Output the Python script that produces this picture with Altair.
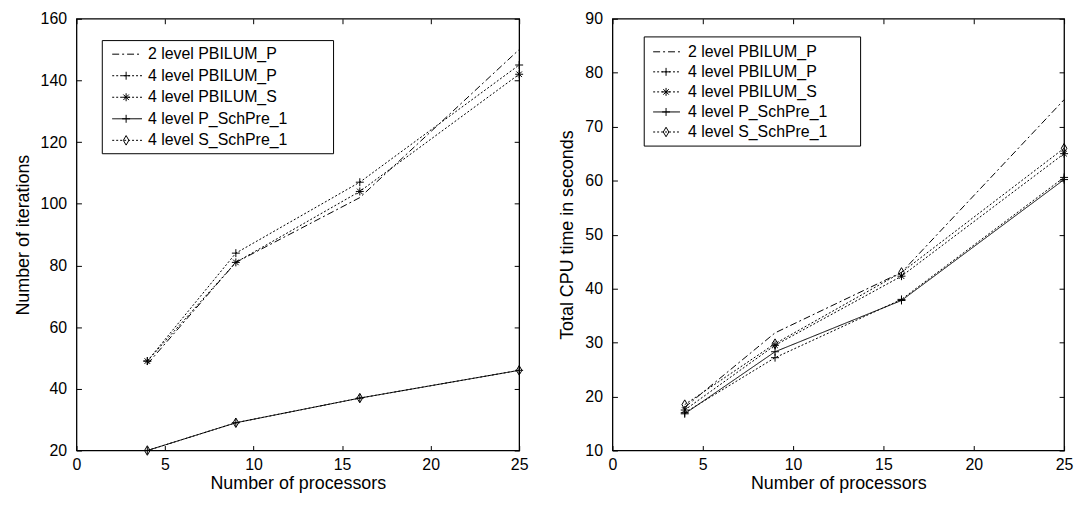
import altair as alt
import pandas as pd

# ---------------- data ----------------
procs = [4, 9, 16, 25]
series_names = [
    "2 level PBILUM_P",
    "4 level PBILUM_P",
    "4 level PBILUM_S",
    "4 level P_SchPre_1",
    "4 level S_SchPre_1",
]

# Left panel: number of iterations
iter_2P = [48, 81, 102, 150]
iter_4P = [49, 84, 107, 145]
iter_4S = [49, 81, 104, 142]
iter_PSch = [20, 29, 37, 46]
iter_SSch = [20, 29, 37, 46]

# Right panel: total CPU time in seconds
cpu_2P = [18, 31.8, 43, 75]
cpu_4P = [17, 27.2, 38, 60.6]
cpu_4S = [17.5, 29.5, 42.3, 65]
cpu_PSch = [16.8, 28.3, 37.8, 60.2]
cpu_SSch = [18.5, 29.8, 43, 66]

x_ticks = [0, 5, 10, 15, 20, 25]
iter_ticks = [20, 40, 60, 80, 100, 120, 140, 160]
cpu_ticks = [10, 20, 30, 40, 50, 60, 70, 80, 90]

# ---------------- styles ----------------
FONT = "Liberation Sans"
LABEL_SIZE = 16
TITLE_SIZE = 18
LEGEND_SIZE = 16
CROSS = "M-1,0L1,0M0,-1L0,1"
STAR = "M-1,0L1,0M0,-1L0,1M-0.7,-0.7L0.7,0.7M-0.7,0.7L0.7,-0.7"
DIAMOND = "M0,-1.2L0.7,0L0,1.2L-0.7,0Z"
NONE = "M0,0"

dash_scale = alt.Scale(
    domain=series_names,
    range=[[7, 3, 2, 3], [2, 2], [2, 2], [1, 0], [2, 2]],
)
shape_scale = alt.Scale(domain=series_names, range=[NONE, CROSS, STAR, CROSS, DIAMOND])


def long_df(cols):
    rows = []
    for name, vals in zip(series_names, cols):
        for p, v in zip(procs, vals):
            rows.append({"series": name, "procs": p, "value": v})
    return pd.DataFrame(rows)


def panel(cols, ydomain, yticks, ytitle, w, h, leg):
    df = long_df(cols)
    xs = alt.Scale(domain=[0, 25], nice=False, zero=False)
    ys = alt.Scale(domain=ydomain, nice=False, zero=False)

    common = dict(
        labelFont=FONT, titleFont=FONT, labelFontSize=LABEL_SIZE, titleFontSize=TITLE_SIZE,
        titleFontWeight="normal", titleColor="black", tickColor="black", labelColor="black",
        domain=False, grid=False, offset=-5, tickSize=5, format="d", labelFlush=False,
    )
    bottom_axis = alt.Axis(
        orient="bottom", values=x_ticks, labelPadding=6,
        title="Number of processors", titlePadding=2, **common,
    )
    left_axis = alt.Axis(
        orient="left", values=yticks, labelPadding=10,
        title=ytitle, titlePadding=8, **common,
    )

    lines = alt.Chart(df).mark_line(color="black", strokeWidth=1).encode(
        x=alt.X("procs:Q", scale=xs, axis=bottom_axis),
        y=alt.Y("value:Q", scale=ys, axis=left_axis),
        strokeDash=alt.StrokeDash("series:N", scale=dash_scale, legend=None),
        detail="series:N",
    )
    points = (
        alt.Chart(df)
        .transform_filter(alt.datum.series != series_names[0])
        .mark_point(color="black", filled=False, strokeWidth=1, size=64, opacity=1)
        .encode(
            x=alt.X("procs:Q", scale=xs, axis=None),
            y=alt.Y("value:Q", scale=ys, axis=None),
            shape=alt.Shape("series:N", scale=shape_scale, legend=None),
        )
    )
    frame_axes = alt.Chart(df).mark_point(opacity=0).encode(
        x=alt.X("procs:Q", scale=xs, axis=alt.Axis(
            orient="top", values=x_ticks, labels=False, offset=-5, tickSize=5,
            domain=False, grid=False, title=None, tickColor="black")),
        y=alt.Y("value:Q", scale=ys, axis=alt.Axis(
            orient="right", values=yticks, labels=False, offset=-5, tickSize=5,
            domain=False, grid=False, title=None, tickColor="black")),
    )

    # legend box
    lx0, lx1, ly0, ly1, sx0, sx1, mx, tx, ry0, dy = leg
    leg_df = pd.DataFrame({"series": series_names})
    box = alt.Chart(leg_df).transform_filter(alt.datum.series == series_names[0]).mark_rect(
        fill="white", stroke="black", strokeWidth=1
    ).encode(x=alt.value(lx0), x2=alt.value(lx1), y=alt.value(ly0), y2=alt.value(ly1))
    leg_layers = [box]
    for i, name in enumerate(series_names):
        ry = ry0 + i * dy
        base = alt.Chart(leg_df).transform_filter(alt.datum.series == name)
        leg_layers.append(
            base.mark_rule(color="black", strokeWidth=1).encode(
                x=alt.value(sx0), x2=alt.value(sx1), y=alt.value(ry),
                strokeDash=alt.StrokeDash("series:N", scale=dash_scale, legend=None),
            )
        )
        if i > 0:
            leg_layers.append(
                base.mark_point(color="black", filled=False, strokeWidth=1, size=64, opacity=1).encode(
                    x=alt.value(mx), y=alt.value(ry),
                    shape=alt.Shape("series:N", scale=shape_scale, legend=None),
                )
            )
        leg_layers.append(
            base.mark_text(align="left", baseline="middle", font=FONT, fontSize=LEGEND_SIZE,
                           color="black").encode(
                x=alt.value(tx), y=alt.value(ry), text="series:N"
            )
        )

    return (
        alt.layer(lines, points, frame_axes, *leg_layers)
        .resolve_axis(x="independent", y="independent")
        .properties(width=w, height=h)
    )


left = panel(
    [iter_2P, iter_4P, iter_4S, iter_PSch, iter_SSch],
    [20, 160], iter_ticks, "Number of iterations", 446, 435,
    (26, 259, 22, 136, 36, 66, 50, 72, 35.7, 21.7),
)
right = panel(
    [cpu_2P, cpu_4P, cpu_4S, cpu_PSch, cpu_SSch],
    [10, 90], cpu_ticks, "Total CPU time in seconds", 455, 435,
    (32, 250, 18.3, 128.3, 41, 68, 54, 76, 33.3, 20.2),
)

chart = (
    alt.hconcat(left, right, spacing=29)
    .properties(padding={"left": 5, "top": 0, "right": 0, "bottom": 0}, background="white")
    .configure_view(stroke="black", strokeWidth=1.3)
)

chart.save("out.html", embed_options={"renderer": "svg", "actions": False})
